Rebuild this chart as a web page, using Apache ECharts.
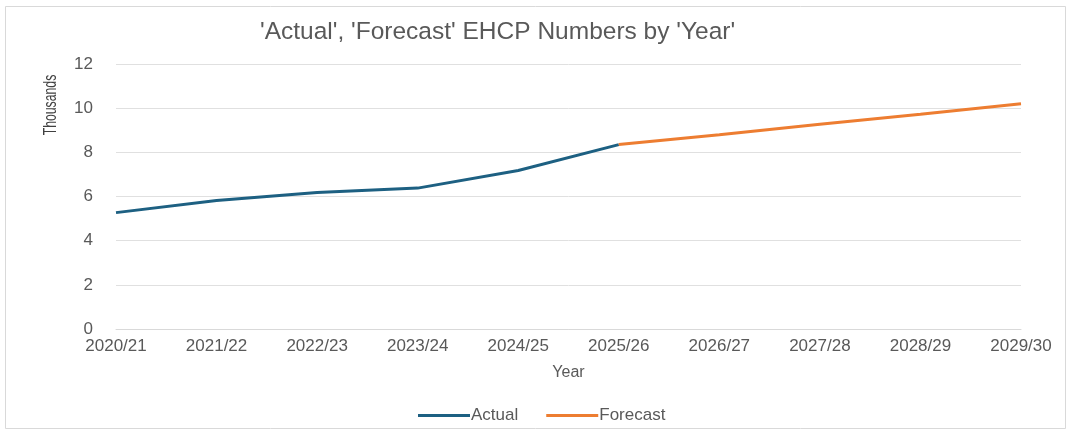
<!DOCTYPE html>
<html><head><meta charset="utf-8">
<script src="https://cdn.jsdelivr.net/npm/echarts@6/dist/echarts.min.js"></script>
<style>html,body{margin:0;padding:0;background:#fff}#c{width:1071px;height:431px}</style>
</head><body><div id="c"></div>
<script>
const categories = ['2020/21','2021/22','2022/23','2023/24','2024/25','2025/26','2026/27','2027/28','2028/29','2029/30'];
const actual = [5.27, 5.82, 6.18, 6.38, 7.18, 8.35, null, null, null, null];
const forecast = [null, null, null, null, null, 8.35, 8.80, 9.27, 9.72, 10.20];
const yTicks = [0, 2, 4, 6, 8, 10, 12];

const F = 'Liberation Sans, Arial';
const chart = echarts.init(document.getElementById('c'), null, {renderer:'canvas'});
chart.setOption({
  animation: false,
  backgroundColor: '#fff',
  title: {
    text: "'Actual', 'Forecast' EHCP Numbers by 'Year'",
    left: 255, top: 15,
    textStyle: {fontFamily: F, fontSize: 24.5, fontWeight: 'normal', color: '#595959'}
  },
  graphic: [
    {type:'rect', shape:{x:5.5, y:6.5, width:1060, height:422}, style:{fill:'none', stroke:'#d9d9d9', lineWidth:1}, silent:true},
    {type:'text', x:51, y:105, rotation:Math.PI/2, scaleX:0.68, style:{text:'Thousands', fontFamily:F, fontSize:18, fill:'#404040', textAlign:'center', textVerticalAlign:'middle'}}
  ],
  grid: {left:116, right:50, top:64, bottom:102},
  legend: {
    top: 402, left: 413, itemWidth: 52, itemHeight: 3, itemGap: 28,
    icon: 'rect',
    textStyle: {fontFamily:F, fontSize:17, color:'#595959', padding:[0,0,0,-4]},
    data: ['Actual','Forecast']
  },
  xAxis: {
    type: 'category', data: categories, boundaryGap: false,
    name: 'Year', nameLocation: 'middle', nameGap: 36,
    nameTextStyle: {fontFamily:F, fontSize:16, color:'#595959'},
    axisLine: {lineStyle:{color:'#d9d9d9'}}, axisTick:{show:false},
    axisLabel: {fontFamily:F, fontSize:17, color:'#595959', margin:9},
    splitLine: {show:false}
  },
  yAxis: {
    type: 'value', min: yTicks[0], max: yTicks[yTicks.length-1], interval: 2,
    axisLine:{show:false}, axisTick:{show:false},
    axisLabel: {fontFamily:F, fontSize:17, color:'#595959', margin:23},
    splitLine: {lineStyle:{color:'#e0e0e0', width:1}}
  },
  series: [
    {name:'Actual', type:'line', data: actual, symbol:'none', lineStyle:{width:3, color:'#1d6082'}, itemStyle:{color:'#1d6082'}},
    {name:'Forecast', type:'line', data: forecast, symbol:'none', lineStyle:{width:3, color:'#ed7d31'}, itemStyle:{color:'#ed7d31'}}
  ]
});
</script></body></html>
